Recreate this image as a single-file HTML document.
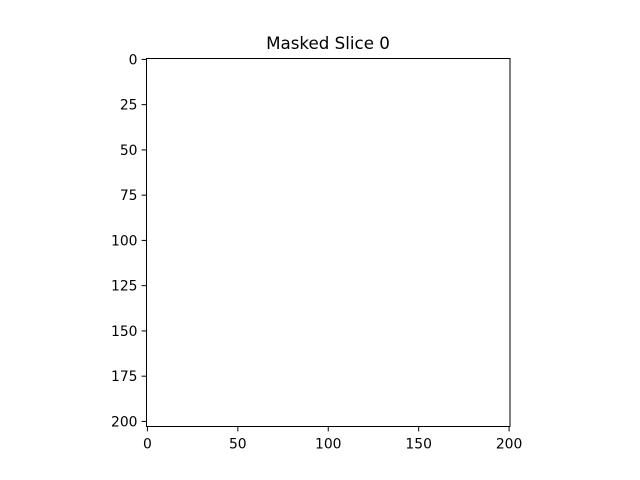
<!DOCTYPE html>
<html><head><meta charset="utf-8"><style>body{margin:0;background:#fff}svg{display:block}text{font-family:"DejaVu Sans","Liberation Sans",sans-serif;font-size:13.9px;fill:#000}</style></head>
<body>
<svg width="640" height="480">
<text x="328" y="49" text-anchor="middle" style="font-size:16.7px">Masked Slice 0</text>
<rect x="146.5" y="58.5" width="363.5" height="368" fill="#fff" stroke="#000" stroke-width="1"/>
<g id="ticks"></g>
</svg>
<script>
const xTicks=[0,50,100,150,200];
const yTicks=[0,25,50,75,100,125,150,175,200];
const xMin=-0.5,xMax=200.5,yMin=-0.5,yMax=202.8;
const L=146.5,R=510,T=58.5,B=426.5;
const sx=v=>L+(v-xMin)/(xMax-xMin)*(R-L);
const sy=v=>T+(v-yMin)/(yMax-yMin)*(B-T);
const g=document.getElementById('ticks');const ns='http://www.w3.org/2000/svg';
xTicks.forEach(v=>{const x=sx(v);
const l=document.createElementNS(ns,'line');l.setAttribute('x1',x);l.setAttribute('x2',x);l.setAttribute('y1',B);l.setAttribute('y2',B+4.9);l.setAttribute('stroke','#000');

g.appendChild(l);
const t=document.createElementNS(ns,'text');t.setAttribute('x',x);t.setAttribute('y',B+22);t.setAttribute('text-anchor','middle');t.textContent=v;

g.appendChild(t);});
yTicks.forEach(v=>{const y=sy(v);
const l=document.createElementNS(ns,'line');l.setAttribute('x1',L-4.9);l.setAttribute('x2',L);l.setAttribute('y1',y);l.setAttribute('y2',y);l.setAttribute('stroke','#000');

g.appendChild(l);
const t=document.createElementNS(ns,'text');t.setAttribute('x',L-9);t.setAttribute('y',y+5);t.setAttribute('text-anchor','end');t.textContent=v;

g.appendChild(t);});
</script>
</body></html>
